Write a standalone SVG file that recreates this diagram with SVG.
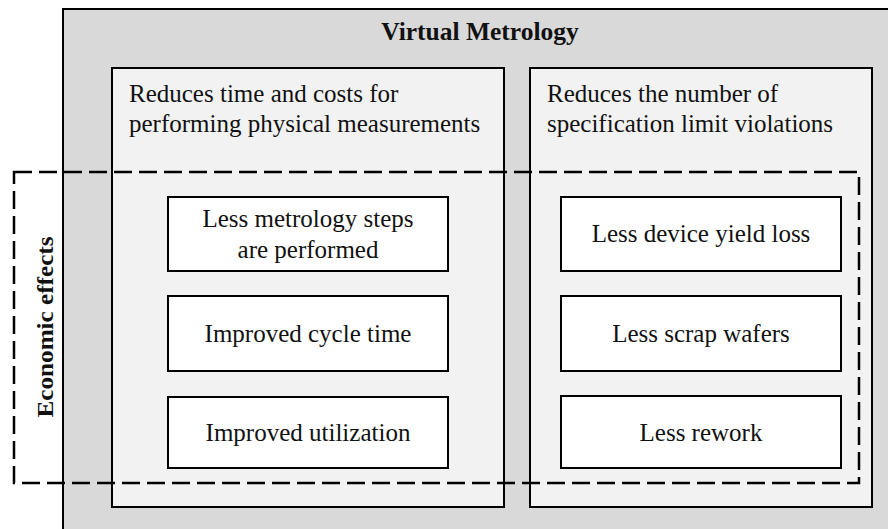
<svg xmlns="http://www.w3.org/2000/svg" width="888" height="529" viewBox="0 0 888 529">
<style>
.outer{fill:#d9d9d9;stroke:#000;stroke-width:2}
.panel{fill:#f2f2f2;stroke:#000;stroke-width:2}
.node{fill:#fff;stroke:#000;stroke-width:2}
.dash{fill:none;stroke:#000;stroke-width:2.5;stroke-dasharray:18 7}
text{font-family:'Liberation Serif','Times New Roman',serif;fill:#111}
.t{font-size:25px}
.c{text-anchor:middle}
.b{font-weight:bold}
</style>
<g id="virtual-metrology">
<rect class="outer" x="63" y="9" width="840" height="540"/>
<text class="b c" x="480" y="40" font-size="25.5">Virtual Metrology</text>
</g>
<g id="panel-left">
<rect class="panel" x="112" y="68" width="392" height="439"/>
<text class="t" x="129" y="102">Reduces time and costs for</text>
<text class="t" x="129" y="132">performing physical measurements</text>
</g>
<g id="panel-right">
<rect class="panel" x="530" y="68" width="342" height="439"/>
<text class="t" x="547" y="102">Reduces the number of</text>
<text class="t" x="547" y="132">specification limit violations</text>
</g>
<g id="n-metrology-steps">
<rect class="node" x="168" y="197" width="280" height="74"/>
<text class="t c" x="308" y="227">Less metrology steps</text>
<text class="t c" x="308" y="258">are performed</text>
</g>
<g id="n-cycle-time">
<rect class="node" x="168" y="296" width="280" height="75"/>
<text class="t c" x="308" y="342">Improved cycle time</text>
</g>
<g id="n-utilization">
<rect class="node" x="168" y="397" width="280" height="71"/>
<text class="t c" x="308" y="441">Improved utilization</text>
</g>
<g id="n-yield-loss">
<rect class="node" x="561" y="197" width="280" height="74"/>
<text class="t c" x="701" y="242">Less device yield loss</text>
</g>
<g id="n-scrap">
<rect class="node" x="561" y="296" width="280" height="75"/>
<text class="t c" x="701" y="342">Less scrap wafers</text>
</g>
<g id="n-rework">
<rect class="node" x="561" y="396" width="280" height="72"/>
<text class="t c" x="701" y="441">Less rework</text>
</g>
<g id="economic-effects">
<rect class="dash" x="14" y="172" width="845" height="311"/>
<text class="b c" transform="translate(53 327) rotate(-90)" font-size="24" textLength="181" lengthAdjust="spacingAndGlyphs">Economic effects</text>
</g>
<g id="connectors"></g>
</svg>
